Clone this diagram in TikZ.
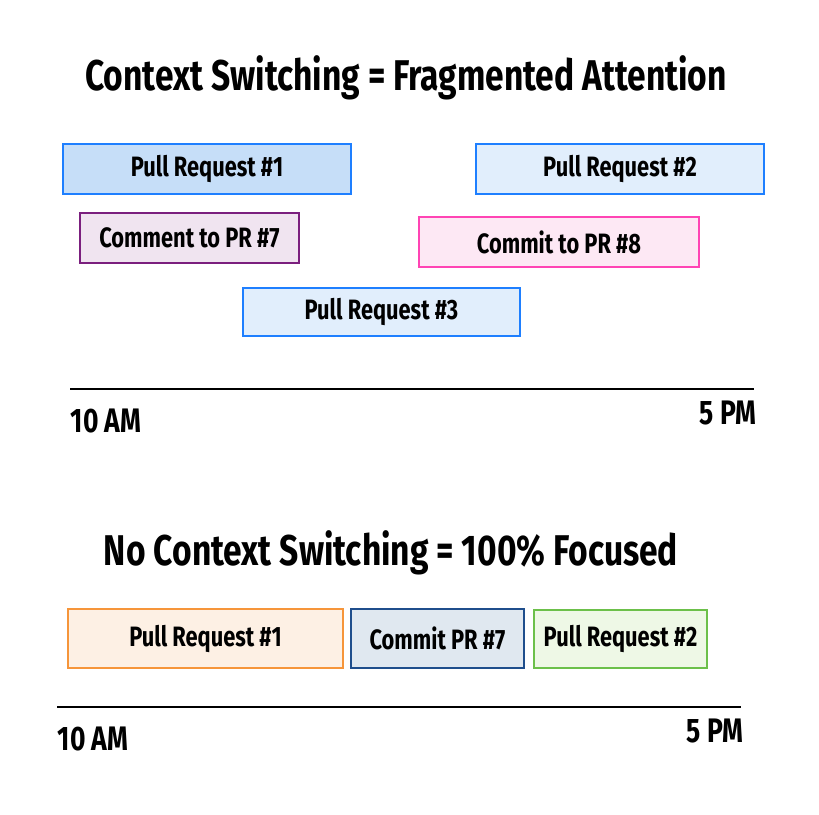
\documentclass[tikz,border=0pt]{standalone}
\usepackage{fontspec}
\setmainfont{Fira Sans}[FakeStretch=0.78]
\definecolor{blueB}{HTML}{1E7FFF}
\definecolor{blueF1}{HTML}{C6DEF8}
\definecolor{blueF2}{HTML}{E1EEFC}
\definecolor{purB}{HTML}{7B1F7E}
\definecolor{purF}{HTML}{F0E4F0}
\definecolor{pinkB}{HTML}{FF44B4}
\definecolor{pinkF}{HTML}{FDE8F4}
\definecolor{orB}{HTML}{F6953A}
\definecolor{orF}{HTML}{FDF0E4}
\definecolor{navB}{HTML}{1F4E8C}
\definecolor{navF}{HTML}{E0E8F0}
\definecolor{grB}{HTML}{6CC04A}
\definecolor{grF}{HTML}{EEF8E6}
\tikzset{
  boxline/.style={line width=1.6pt},
  tasktext/.style={font=\fontsize{28}{30}\selectfont\bfseries, text=black, inner sep=0pt},
  ttl/.style={font=\fontsize{43}{46}\selectfont\bfseries, text=black},
  tlab/.style={font=\fontsize{34}{36}\selectfont\bfseries, text=black},
  axis/.style={line width=1.6pt, black}
}
\newcommand{\taskbox}[7]{% name, x1, y1, x2, y2, style, text
  \path[boxline,#6] (#2,#3) rectangle (#4,#5);
  \node[tasktext] (#1) at ({(#2+#4)/2},{(#3+#5)/2}) {#7};
}
\begin{document}
\begin{tikzpicture}[x=1pt,y=-1pt]
\useasboundingbox[fill=white] (0,0) rectangle (819,814);
% titles
\node[ttl] (t1) at (406,78) {Context Switching = Fragmented Attention};
\node[ttl] (t2) at (391,553) {No Context Switching = 100\% Focused};
% top tasks
\taskbox{pr1}{63}{144}{351}{194}{draw=blueB,fill=blueF1}{Pull Request \#1}
\taskbox{pr2}{476}{144}{764}{194}{draw=blueB,fill=blueF2}{Pull Request \#2}
\taskbox{c7}{80}{213}{299}{263}{draw=purB,fill=purF}{Comment to PR \#7}
\taskbox{c8}{419}{217}{699}{267}{draw=pinkB,fill=pinkF}{Commit to PR \#8}
\taskbox{pr3}{243}{288}{520}{336}{draw=blueB,fill=blueF2}{Pull Request \#3}
% top axis
\coordinate (a1) at (70,389);
\coordinate (a2) at (754,389);
\draw[axis] (a1) -- (a2);
\node[tlab] (l1) at (106,421) {10 AM};
\node[tlab] (r1) at (728,413) {5 PM};
% bottom tasks
\taskbox{b1}{68}{609}{343}{668}{draw=orB,fill=orF}{Pull Request \#1}
\taskbox{b2}{351}{609}{524}{668}{draw=navB,fill=navF}{Commit PR \#7}
\taskbox{b3}{534}{610}{707}{668}{draw=grB,fill=grF}{Pull Request \#2}
\coordinate (a3) at (57,707);
\coordinate (a4) at (741,707);
\draw[axis] (a3) -- (a4);
\node[tlab] (l2) at (93,739) {10 AM};
\node[tlab] (r2) at (715,731) {5 PM};
\end{tikzpicture}
\end{document}
